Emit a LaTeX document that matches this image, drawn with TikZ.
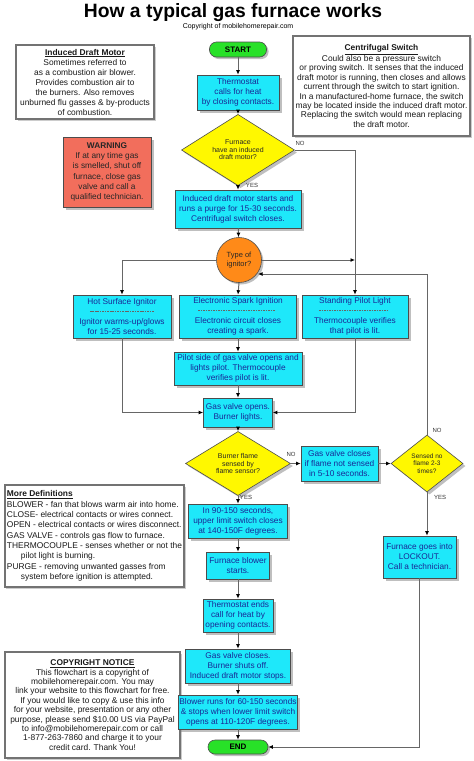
\documentclass[tikz,border=0pt]{standalone}
\usepackage{fontspec}
\setmainfont{Liberation Sans}
\usetikzlibrary{shapes.geometric,arrows.meta,shadows}
\definecolor{boxcyan}{RGB}{30,232,250}
\definecolor{boxtext}{RGB}{25,40,150}
\definecolor{askyellow}{RGB}{255,248,0}
\definecolor{ignorange}{RGB}{255,138,24}
\definecolor{warnred}{RGB}{242,110,92}
\definecolor{termgreen}{RGB}{40,225,40}
\newcommand{\sepdash}[1]{{\color{black!60}\leaders\hbox{\rule[2.5pt]{1.6pt}{0.7pt}\kern0.9pt}\hskip#1pt\relax}}
\begin{document}
\begin{tikzpicture}[x=1pt,y=-1pt,
  box/.style={draw=black!70, line width=0.6pt, fill=boxcyan, text=boxtext, align=center, inner sep=1pt,
    font=\fontsize{8.3}{10}\selectfont, drop shadow={shadow xshift=2.5pt,shadow yshift=-2.5pt,opacity=0.5}},
  ask/.style={diamond, draw=black!70, line width=0.6pt, fill=askyellow, text=black!85, align=center, inner sep=0pt,
    font=\fontsize{7}{7.5}\selectfont, drop shadow={shadow xshift=2.5pt,shadow yshift=-2.5pt,opacity=0.5}},
  terminal/.style={draw=black!70, line width=0.6pt, fill=termgreen, rounded corners=7pt, inner sep=0pt,
    font=\bfseries\fontsize{8}{9}\selectfont, drop shadow={shadow xshift=2pt,shadow yshift=-2pt,opacity=0.5}},
  note/.style={draw=black!55, line width=1.2pt, fill=white, align=center, inner sep=2pt, text=black!90,
    font=\fontsize{8.4}{9.4}\selectfont, drop shadow={shadow xshift=1.5pt,shadow yshift=-1.5pt,opacity=0.4}},
  lbl/.style={font=\fontsize{6}{6}\selectfont, text=black!80, inner sep=0pt},
  flow/.style={draw=black!60, line width=1pt, -{Latex[length=4.5pt,width=4pt,color=black]}},
]
\useasboundingbox (0,0) rectangle (474,761);

\node[font=\bfseries\fontsize{19.3}{22}\selectfont, anchor=base] (title) at (233,17) {How a typical gas furnace works};
\node[font=\fontsize{7}{8}\selectfont, anchor=base] (copyline) at (238,28.5) {Copyright of mobilehomerepair.com};

% side notes
\node[note, minimum width=138pt, minimum height=74pt, font=\fontsize{8.4}{10}\selectfont] (idm) at (85,82) {\underline{\textbf{Induced Draft Motor}}\\Sometimes referred to\\as a combustion air blower.\\Provides combustion air to\\the burners.  Also removes\\unburned flu gasses \& by-products\\of combustion.};
\node[note, minimum width=177pt, minimum height=100pt] (cent) at (381.5,86) {\underline{\textbf{Centrifugal Switch}}\\Could also be a pressure switch\\or proving switch.  It senses that the induced\\draft motor is running, then closes and allows\\current through the switch to start ignition.\\In a manufactured-home furnace, the switch\\may be located inside the induced draft motor.\\Replacing the switch would mean replacing\\the draft motor.};
\node[box, fill=warnred, text=black!85, minimum width=88pt, minimum height=70pt, font=\fontsize{8.3}{10.3}\selectfont] (warn) at (107,172) {\textbf{WARNING}\\If at any time gas\\is smelled, shut off\\furnace, close gas\\valve and call a\\qualified technician.};
\node[note, align=left, minimum width=179pt, minimum height=102pt, font=\fontsize{8.4}{10.3}\selectfont] (defs) at (94.5,536) {\underline{\textbf{More Definitions}}\\BLOWER - fan that blows warm air into home.\\CLOSE- electrical contacts or wires connect.\\OPEN - electrical contacts or wires disconnect.\\GAS VALVE - controls gas flow to furnace.\\THERMOCOUPLE - senses whether or not the\\\hspace*{14pt}pilot light is burning.\\PURGE - removing unwanted gasses from\\\hspace*{14pt}system before ignition is attempted.};
\node[note, minimum width=175pt, minimum height=106pt] (copy) at (92.5,705) {\underline{\textbf{COPYRIGHT NOTICE}}\\This flowchart is a copyright of\\mobilehomerepair.com.  You may\\link your website to this flowchart for free.\\If you would like to copy \& use this info\\for your website, presentation or any other\\purpose, please send \$10.00 US via PayPal\\to info@mobilehomerepair.com or call\\1-877-263-7860 and charge it to your\\credit card.  Thank You!};

% main column
\node[terminal, minimum width=57pt, minimum height=15pt] (start) at (238,49.5) {START};
\node[box, minimum width=82pt, minimum height=35pt] (therm) at (238,92.5) {Thermostat\\calls for heat\\by closing contacts.};
\node[ask, minimum width=113pt, minimum height=63pt] (d1) at (238,150) {Furnace\\have an induced\\draft motor?};
\node[box, minimum width=126pt, minimum height=38pt] (purge) at (238,209) {Induced draft motor starts and\\runs a purge for 15-30 seconds.\\Centrifugal switch closes.};
\node[circle, draw=black!70, line width=0.6pt, fill=ignorange, minimum size=45pt, inner sep=0pt, align=center, text=black!85,
  font=\fontsize{7.5}{9}\selectfont, drop shadow={shadow xshift=2pt,shadow yshift=-2pt,opacity=0.5}] (ign) at (239,260) {Type of\\ignitor?};
\node[box, minimum width=98pt, minimum height=43pt] (hot) at (122,316.5) {Hot Surface Ignitor\\\sepdash{68}\\Ignitor warms-up/glows\\for 15-25 seconds.};
\node[box, minimum width=117pt, minimum height=43pt] (spark) at (238,316.5) {Electronic Spark Ignition\\\sepdash{80}\\Electronic circuit closes\\creating a spark.};
\node[box, minimum width=106pt, minimum height=43pt] (pilot) at (355,316.5) {Standing Pilot Light\\\sepdash{72}\\Thermocouple verifies\\that pilot is lit.};
\node[box, minimum width=128pt, minimum height=33pt] (pside) at (238,368.5) {Pilot side of gas valve opens and\\lights pilot.  Thermocouple\\verifies pilot is lit.};
\node[box, minimum width=69pt, minimum height=29pt] (gvo) at (238,412.5) {Gas valve opens.\\Burner lights.};
\node[ask, minimum width=105pt, minimum height=57pt] (d2) at (238,463.5) {Burner flame\\sensed by\\flame sensor?};
\node[box, minimum width=77pt, minimum height=35pt] (gvc) at (339.5,463.5) {Gas valve closes\\if flame not sensed\\in 5-10 seconds.};
\node[ask, minimum width=72pt, minimum height=57pt, font=\fontsize{6.5}{7.5}\selectfont] (d3) at (427,463.5) {Sensed no\\flame 2-3\\times?};
\node[box, minimum width=73pt, minimum height=42pt] (lock) at (419.5,557) {Furnace goes into\\LOCKOUT.\\Call a technician.};
\node[box, minimum width=99pt, minimum height=34pt] (t90) at (238,521) {In 90-150 seconds,\\upper limit switch closes\\at 140-150F degrees.};
\node[box, minimum width=63pt, minimum height=27pt] (blow) at (238,565.5) {Furnace blower\\starts.};
\node[box, minimum width=70pt, minimum height=33pt] (tend) at (238,615.5) {Thermostat ends\\call for heat by\\opening contacts.};
\node[box, minimum width=105pt, minimum height=34pt] (gvc2) at (238,666) {Gas valve closes.\\Burner shuts off.\\Induced draft motor stops.};
\node[box, minimum width=119pt, minimum height=34pt] (brun) at (238,712) {Blower runs for 60-150 seconds\\\& stops when lower limit switch\\opens at 110-120F degrees.};
\node[terminal, minimum width=60pt, minimum height=14pt] (end) at (238,747) {END};

\node[lbl] (no1) at (300,143) {NO};
\node[lbl] (yes1) at (252,185) {YES};
\node[lbl] (no2) at (291,454) {NO};
\node[lbl] (yes2) at (246,497) {YES};
\node[lbl] (no3) at (437,430) {NO};
\node[lbl] (yes3) at (440,497) {YES};

\coordinate (loopin) at (258,274);

\draw[flow] (start) -- (therm);
\draw[flow] (therm) -- (d1);
\draw[flow] (d1) -- (purge);
\draw[flow] (d1.east) -| (pilot.north);
\draw[flow] (purge) -- (ign);
\draw[flow] (ign.west) -| (hot.north);
\draw[flow] (ign.south) -- (spark.north);
\draw[flow] (ign.east) -- (ign.east -| pilot.north);
\draw[flow] (d3.north) |- (loopin);
\draw[flow] (spark) -- (pside);
\draw[flow] (pside) -- (gvo);
\draw[flow] (hot.south) |- (gvo.west);
\draw[flow] (pilot.south) |- (gvo.east);
\draw[flow] (gvo) -- (d2);
\draw[flow] (d2.east) -- (gvc.west);
\draw[flow] (gvc.east) -- (d3.west);
\draw[flow] (d3.south) -- (d3.south |- lock.north);
\draw[flow] (lock.south) |- (end.east);
\draw[flow] (d2) -- (t90);
\draw[flow] (t90) -- (blow);
\draw[flow] (blow) -- (tend);
\draw[flow] (tend) -- (gvc2);
\draw[flow] (gvc2) -- (brun);
\draw[flow] (brun) -- (end);
\end{tikzpicture}
\end{document}
